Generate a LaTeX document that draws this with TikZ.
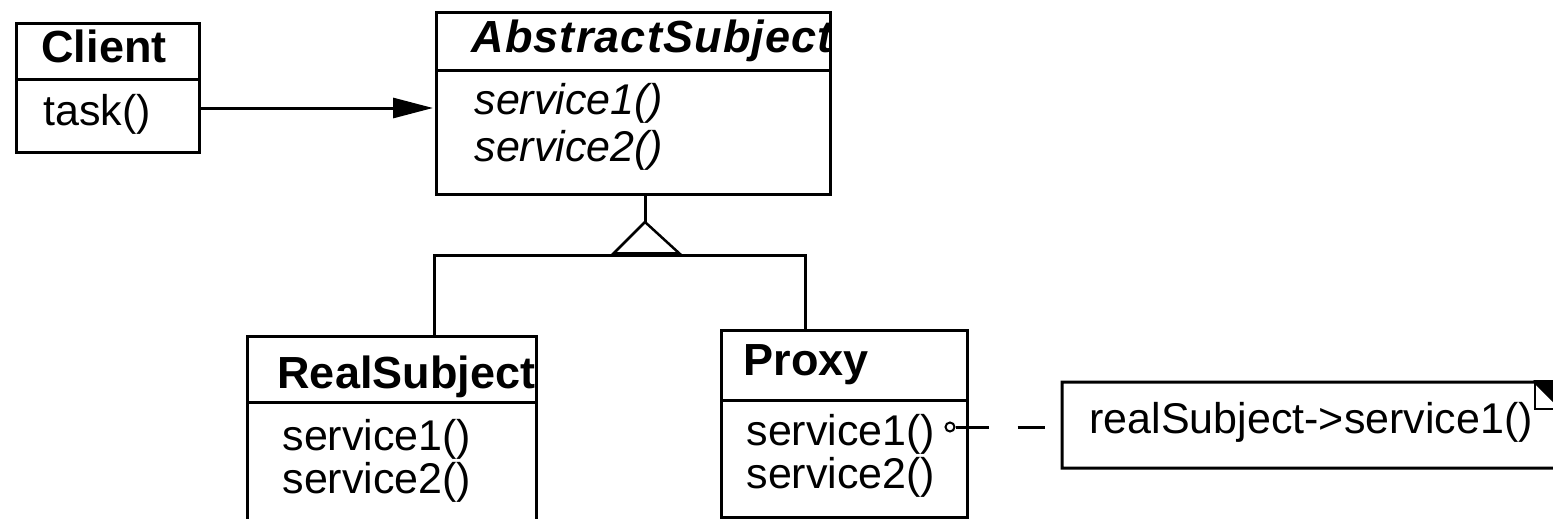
\documentclass[tikz,border=0pt]{standalone}
\usepackage{fontspec}
\setmainfont{Liberation Sans}
\usetikzlibrary{arrows.meta,calc}
\begin{document}
\begin{tikzpicture}[x=1pt,y=-1pt,line width=3pt,
  classbox/.style={draw,line width=3pt,anchor=north west,inner sep=0pt,outer sep=0pt},
  classtitle/.style={anchor=base west,inner sep=0pt,font=\fontsize{45}{54}\selectfont\bfseries},
  abstitle/.style={classtitle,font=\fontsize{45}{54}\selectfont\bfseries\itshape\addfontfeatures{LetterSpace=2.6}},
  op/.style={anchor=base west,inner sep=0pt,font=\fontsize{43}{50}\selectfont},
  absop/.style={op,font=\fontsize{43}{50}\selectfont\itshape},
  assoc/.style={-{Triangle[length=40pt,width=20pt]},line width=3pt},
  implink/.style={line width=3pt,dash pattern=on 33pt off 29pt on 27pt off 40pt}]
\useasboundingbox (0,0) rectangle (1553,519);
\clip (0,0) rectangle (1553,519);

% Client
\node[classbox,minimum width=183pt,minimum height=128pt] (client) at (16,24) {};
\draw (client.west |- 0,80) -- (client.east |- 0,80);
\node[classtitle] (clientname) at (40,63) {Client};
\node[op] (clienttask) at (42,125) {task()};

% AbstractSubject
\node[classbox,minimum width=394pt,minimum height=181pt] (abs) at (436,13) {};
\draw (abs.west |- 0,71) -- (abs.east |- 0,71);
\begin{scope}
  \clip (abs.north west) rectangle (abs.east |- 0,71);
  \node[abstitle] (absname) at (470,53) {AbstractSubject};
\end{scope}
\node[absop] (absop1) at (473,114) {service1()};
\node[absop] (absop2) at (473,161) {service2()};

% RealSubject
\node[classbox,minimum width=289pt,minimum height=240pt] (real) at (247,336) {};
\draw (real.west |- 0,402) -- (real.east |- 0,402);
\begin{scope}
  \clip (real.north west) rectangle (real.east |- 0,402);
  \node[classtitle] (realname) at (276,388) {RealSubject};
\end{scope}
\node[op] (realop1) at (281,450) {service1()};
\node[op] (realop2) at (281,493) {service2()};

% Proxy
\node[classbox,minimum width=246pt,minimum height=187pt] (proxy) at (721,330) {};
\draw (proxy.west |- 0,400) -- (proxy.east |- 0,400);
\node[classtitle] (proxyname) at (742,375) {Proxy};
\node[op] (proxyop1) at (745,445) {service1()};
\node[op] (proxyop2) at (745,488) {service2()};
\node[circle,draw,line width=2pt,minimum size=9pt,inner sep=0pt] (pc) at (950,427) {};

% Note with folded corner
\node[anchor=north west,inner sep=0pt,outer sep=0pt,minimum width=500pt,minimum height=86pt] (note) at (1062,382) {};
\draw (note.north west) -- ($(note.north east)+(-27,0)$) -- ($(note.north east)+(0,27)$)
      -- (note.south east) -- (note.south west) -- cycle;
\draw[line width=2pt] ($(note.north east)+(-27,0)$) -- ($(note.north east)+(-27,27)$) -- ($(note.north east)+(0,27)$);
\fill ($(note.north east)+(-29,-2)$) -- ($(note.north east)+(-9,-2)$) -- ($(note.north east)+(-9,18)$) -- cycle;
\node[op] (notetext) at (1088,433) {realSubject->service1()};

% Association
\draw[assoc] (client.east |- 0,108) -- ($(abs.west |- 0,108)+(-3,0)$);

% Generalization
\coordinate (apex) at (645,222);
\coordinate (busL) at (434,255);
\coordinate (busR) at (805,255);
\draw (abs.south -| apex) -- (apex);
\draw[line width=2.5pt] (apex) -- (613,254) -- (680,254) -- cycle;
\draw[line width=5pt] (613,254) -- (680,254);
\draw (real.north -| busL) -- (busL) -- (busR) -- (proxy.north -| busR);

% Implementation note link
\draw[implink] (pc.east) -- (pc.east -| note.west);
\end{tikzpicture}
\end{document}
